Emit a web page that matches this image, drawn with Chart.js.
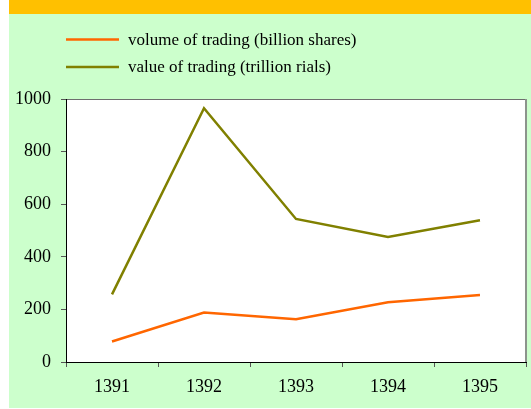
<!DOCTYPE html>
<html>
<head>
<meta charset="utf-8">
<script src="https://cdn.jsdelivr.net/npm/chart.js@4/dist/chart.umd.min.js"></script>
<style>
html,body{margin:0;padding:0;background:#fff;}
#wrap{width:531px;height:409px;position:relative;}
</style>
</head>
<body>
<div id="wrap"><canvas id="c" width="531" height="409"></canvas></div>
<script>
const categories = ['1391', '1392', '1393', '1394', '1395'];
const volumeOfTrading = [78, 188, 163, 227, 255];
const valueOfTrading = [257, 965, 544, 475, 539];
const seriesLabels = ['volume of trading (billion shares)', 'value of trading (trillion rials)'];
const seriesColors = ['#ff6600', '#808000'];
const yTicks = [0, 200, 400, 600, 800, 1000];

const serif = "'Liberation Serif', 'Times New Roman', serif";

const bgPlugin = {
  id: 'bg',
  beforeDraw(chart) {
    const ctx = chart.ctx, a = chart.chartArea;
    ctx.save();
    ctx.fillStyle = '#ffffff';
    ctx.fillRect(0, 0, chart.width, chart.height);
    ctx.fillStyle = '#ccffcc';
    ctx.fillRect(9, 0, chart.width - 9, 408);
    ctx.fillStyle = '#ffc000';
    ctx.fillRect(9, 0, chart.width - 9, 14);
    ctx.fillStyle = '#ffffff';
    ctx.fillRect(a.left, a.top, a.right - a.left, a.bottom - a.top);
    // top & right border
    ctx.strokeStyle = '#6e6e6e';
    ctx.lineWidth = 1;
    ctx.beginPath();
    ctx.moveTo(a.left, a.top + 0.5);
    ctx.lineTo(a.right, a.top + 0.5);
    ctx.stroke();
    ctx.strokeStyle = '#8c948c';
    ctx.lineWidth = 2;
    ctx.beginPath();
    ctx.moveTo(a.right, a.top);
    ctx.lineTo(a.right, a.bottom);
    ctx.stroke();
    // legend
    ctx.font = '17px ' + serif;
    ctx.textBaseline = 'middle';
    ctx.textAlign = 'left';
    const rows = [39.5, 67];
    chart.data.datasets.forEach((ds, i) => {
      ctx.strokeStyle = ds.borderColor;
      ctx.lineWidth = 2.5;
      ctx.beginPath();
      ctx.moveTo(66, rows[i]);
      ctx.lineTo(119, rows[i]);
      ctx.stroke();
      ctx.fillStyle = '#000';
      ctx.fillText(ds.label, 128, rows[i] + 1);
    });
    ctx.restore();
  }
};

new Chart(document.getElementById('c'), {
  type: 'line',
  data: {
    labels: categories,
    datasets: [
      { label: seriesLabels[0], data: volumeOfTrading, borderColor: seriesColors[0], backgroundColor: seriesColors[0], borderWidth: 2.5, pointRadius: 0, tension: 0, fill: false },
      { label: seriesLabels[1], data: valueOfTrading, borderColor: seriesColors[1], backgroundColor: seriesColors[1], borderWidth: 2.5, pointRadius: 0, tension: 0, fill: false }
    ]
  },
  options: {
    responsive: false,
    animation: false,
    devicePixelRatio: 1,
    layout: { padding: { top: 99, right: 5, bottom: 0, left: 0 } },
    plugins: { legend: { display: false }, tooltip: { enabled: false }, title: { display: false } },
    scales: {
      x: {
        type: 'category',
        offset: true,
        grid: { offset: true, drawOnChartArea: false, drawTicks: true, tickLength: 5, color: '#555' },
        border: { color: '#000', width: 1 },
        ticks: { color: '#000', font: { family: serif, size: 18 }, padding: 9, maxRotation: 0 },
        afterFit(s) { s.height = 47; }
      },
      y: {
        min: 0, max: 1000,
        afterBuildTicks(s) { s.ticks = yTicks.map(v => ({ value: v })); },
        grid: { drawOnChartArea: false, drawTicks: true, tickLength: 5, color: '#555' },
        border: { color: '#000', width: 1 },
        ticks: { color: '#000', font: { family: serif, size: 18 }, padding: 10, callback: v => String(v) },
        afterFit(s) { s.width = 66; }
      }
    }
  },
  plugins: [bgPlugin]
});
</script>
</body>
</html>
